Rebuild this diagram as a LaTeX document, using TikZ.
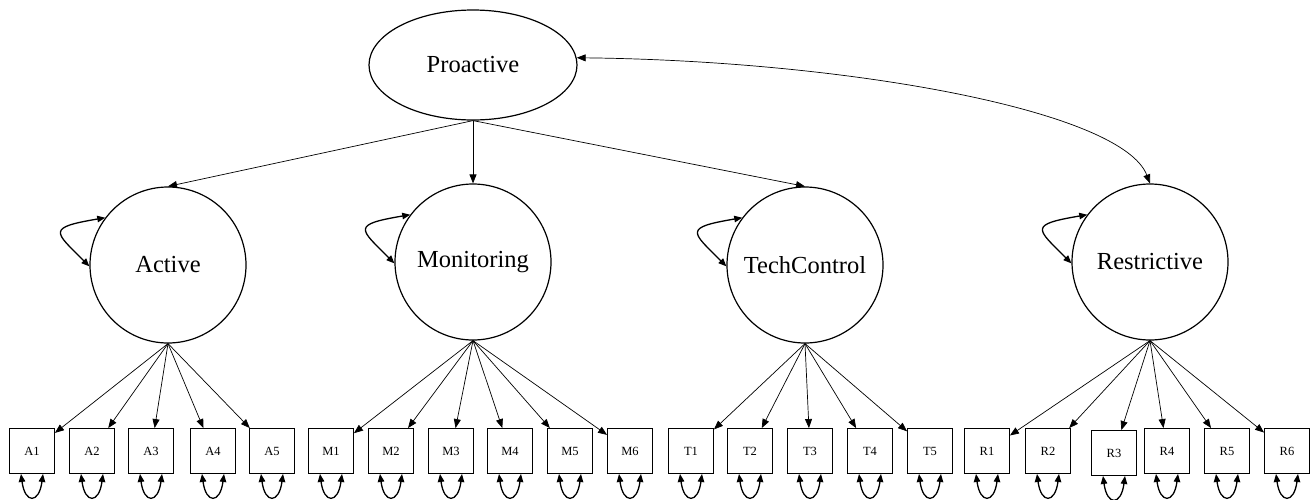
\documentclass[tikz,border=0pt]{standalone}
\usepackage{fontspec}
\setmainfont{Liberation Serif}
\usetikzlibrary{arrows.meta,shapes.geometric}
\begin{document}
\begin{tikzpicture}[x=1pt,y=-1pt,
 latent/.style={circle,draw,line width=1.2pt,minimum size=156pt,inner sep=0pt,font=\fontsize{24.5}{28}\selectfont},
 topf/.style={ellipse,draw,line width=1.2pt,minimum width=208pt,minimum height=110pt,inner sep=0pt,font=\fontsize{24.5}{28}\selectfont},
 obs/.style={rectangle,draw,line width=0.9pt,minimum size=45pt,inner sep=0pt,font=\fontsize{12.5}{14}\selectfont},
 load/.style={-{Triangle[length=9pt,width=7pt]},line width=0.7pt},
 cov/.style={{Triangle[length=9pt,width=7pt]}-{Triangle[length=9pt,width=7pt]},line width=0.7pt},
 var/.style={{Triangle[length=8pt,width=6.5pt]}-{Triangle[length=8pt,width=6.5pt]},line width=1.3pt},
]
\useasboundingbox (0,0) rectangle (1314,499);

\node[topf] (Proactive) at (473,65) {Proactive};
\node[latent] (Active) at (168,265) {Active};
\node[latent] (Monitoring) at (473,262) {Monitoring};
\node[latent] (TechControl) at (805,265) {TechControl};
\node[latent] (Restrictive) at (1150,262) {Restrictive};

\foreach \n/\x in {A1/32,A2/92,A3/151,A4/213,A5/272,
                   M1/331,M2/391,M3/451,M4/510,M5/570,M6/630,
                   T1/691,T2/750,T3/810,T4/870,T5/930,
                   R1/987,R2/1048,R4/1167,R5/1227,R6/1287}
  \node[obs] (\n) at (\x,451) {\n};
\node[obs] (R3) at (1114,453) {R3};

% second-order loadings
\foreach \l in {Active,Monitoring,TechControl}
  \draw[load] (Proactive.south) -- (\l.north);

% covariance
\draw[cov] (Proactive.4) .. controls +(270,3) and +(-28,-73) .. (Restrictive.north);

% first-order loadings
\foreach \b in {A1,A2,A3,A4,A5} \draw[load] (Active.south) -- (\b);
\foreach \b in {M1,M2,M3,M4,M5,M6} \draw[load] (Monitoring.south) -- (\b);
\foreach \b in {T1,T2,T3,T4,T5} \draw[load] (TechControl.south) -- (\b);
\foreach \b in {R1,R2,R3,R4,R5,R6} \draw[load] (Restrictive.south) -- (\b);

% latent variances
\foreach \l in {Active,Monitoring,TechControl,Restrictive}
  \draw[var] (\l.143) .. controls +(-59,10) and +(-35,-35) .. (\l.181);

% residual variances
\foreach \b in {A1,A2,A3,A4,A5,M1,M2,M3,M4,M5,M6,T1,T2,T3,T4,T5,R1,R2,R3,R4,R5,R6}
  \draw[var] ([xshift=-11pt]\b.south) .. controls +(4,30) and +(-4,30) .. ([xshift=11pt]\b.south);
\end{tikzpicture}
\end{document}
